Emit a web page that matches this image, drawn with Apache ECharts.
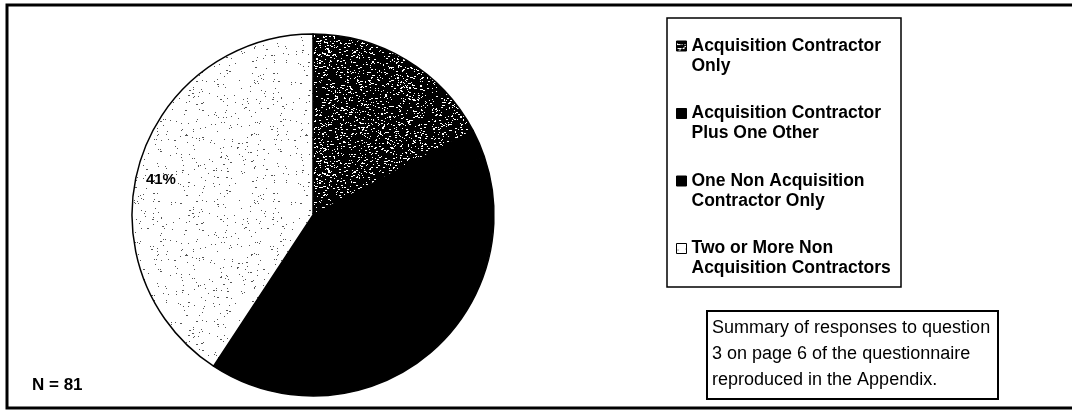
<!DOCTYPE html>
<html>
<head>
<meta charset="utf-8">
<script src="https://cdn.jsdelivr.net/npm/echarts@6/dist/echarts.min.js"></script>
<style>
  html, body { margin: 0; padding: 0; background: #fff; }
  #chart { width: 1072px; height: 412px; }
</style>
</head>
<body>
<div id="chart"></div>
<script>
// data (N = 81)
const categories = [
  'Acquisition Contractor Only',
  'Acquisition Contractor Plus One Other',
  'One Non Acquisition Contractor Only',
  'Two or More Non Acquisition Contractors'
];
const counts = [14, 2, 32, 33];
const legendLines = {
  'Acquisition Contractor Only': 'Acquisition Contractor\nOnly',
  'Acquisition Contractor Plus One Other': 'Acquisition Contractor\nPlus One Other',
  'One Non Acquisition Contractor Only': 'One Non Acquisition\nContractor Only',
  'Two or More Non Acquisition Contractors': 'Two or More Non\nAcquisition Contractors'
};
const labelled = ['Two or More Non Acquisition Contractors'];
const note = 'Summary of responses to question\n3 on page 6 of the questionnaire\nreproduced in the Appendix.';
const total = 'N = 81';

// stipple textures (seeded so the picture is the same every run)
function stipple(bg, dot, density, seed, big) {
  const c = document.createElement('canvas');
  c.width = 120; c.height = 120;
  const ctx = c.getContext('2d');
  ctx.fillStyle = bg;
  ctx.fillRect(0, 0, 120, 120);
  ctx.fillStyle = dot;
  let s = seed;
  const rnd = () => { s = (s * 1103515245 + 12345) % 2147483648; return s / 2147483648; };
  const n = Math.round(120 * 120 * density);
  for (let i = 0; i < n; i++) {
    const x = Math.floor(rnd() * 120), y = Math.floor(rnd() * 120);
    ctx.fillRect(x, y, rnd() < big ? 2 : 1, 1);
  }
  return { image: c, repeat: 'repeat' };
}
const darkDots = stipple('#000', '#fff', 0.1, 7, 0.35);
const lightDots = stipple('#fff', '#555', 0.022, 11, 0.1);
const colors = [darkDots, '#000', '#000', lightDots];

const chart = echarts.init(document.getElementById('chart'));
const font = '"Liberation Sans", Arial, sans-serif';

chart.setOption({
  animation: false,
  color: colors,
  legend: {
    orient: 'vertical',
    left: 676,
    top: 16,
    padding: 0,
    itemWidth: 10,
    itemHeight: 10,
    itemGap: 7.5,
    selectedMode: false,
    icon: 'rect',
    itemStyle: { borderColor: '#000', borderWidth: 1 },
    textStyle: {
      fontFamily: font, fontSize: 17.5, fontWeight: 'bold', color: '#000',
      lineHeight: 20
    },
    // leading blank line keeps the marker level with the first text line
    formatter: name => ' \n' + legendLines[name],
    data: categories
  },
  series: [
    {
      type: 'pie',
      center: [313, 215],
      radius: 181,
      startAngle: 90,
      clockwise: true,
      silent: true,
      label: { show: false },
      labelLine: { show: false },
      itemStyle: { borderColor: '#000', borderWidth: 1.5 },
      data: categories.map((name, i) => ({ name: name, value: counts[i] }))
    },
    {
      // transparent twin, only carries the percent label further out
      type: 'pie',
      center: [313, 215],
      radius: 306,
      startAngle: 93.8,
      silent: true,
      legendHoverLink: false,
      itemStyle: { color: 'rgba(0,0,0,0)', borderWidth: 0 },
      labelLine: { show: false },
      label: {
        position: 'inside',
        fontFamily: font, fontSize: 15, fontWeight: 'bold', color: '#000',
        formatter: p => labelled.includes(p.name.trim()) ? Math.round(p.percent) + '%' : ''
      },
      data: categories.map((name, i) => ({ name: name + ' ', value: counts[i] }))
    }
  ],
  graphic: [
    {
      type: 'rect', silent: true,
      shape: { x: 7, y: 5, width: 1090, height: 403 },
      style: { fill: 'none', stroke: '#000', lineWidth: 3 }
    },
    {
      type: 'rect', silent: true,
      shape: { x: 667, y: 18, width: 234, height: 269 },
      style: { fill: 'none', stroke: '#000', lineWidth: 1.5 }
    },
    {
      type: 'rect', silent: true,
      shape: { x: 707, y: 311, width: 291, height: 88 },
      style: { fill: '#fff', stroke: '#000', lineWidth: 2 }
    },
    {
      type: 'text', silent: true, x: 712, y: 315,
      style: { text: note, font: '18px ' + font, lineHeight: 26, fill: '#000' }
    },
    {
      type: 'text', silent: true, x: 32, y: 377,
      style: { text: total, font: 'bold 17px ' + font, fill: '#000' }
    }
  ]
});
</script>
</body>
</html>
